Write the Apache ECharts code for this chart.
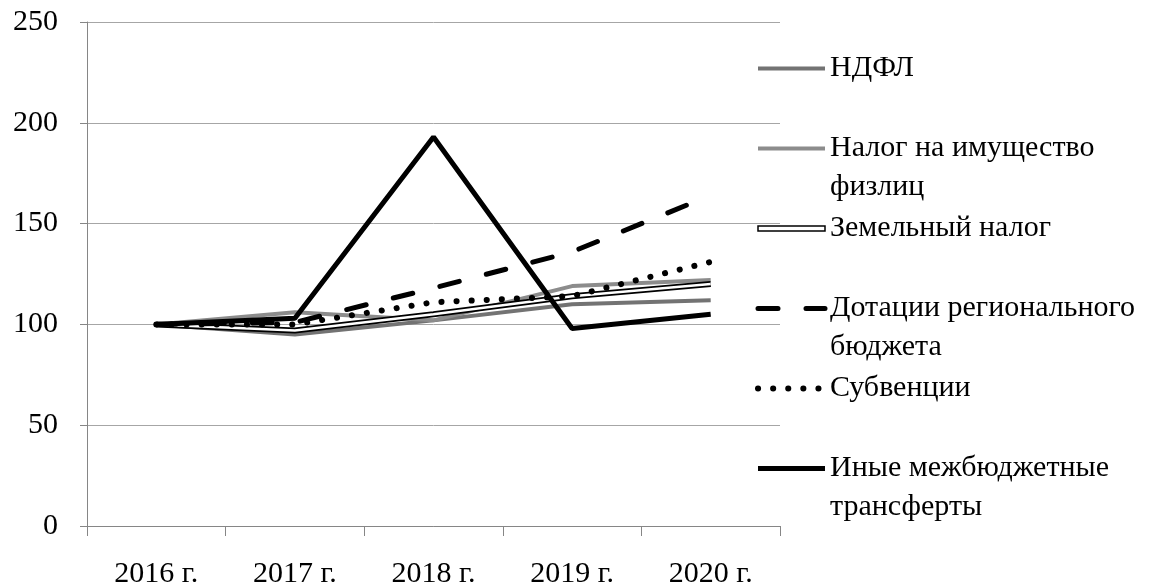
<!DOCTYPE html>
<html>
<head>
<meta charset="utf-8">
<script src="https://cdn.jsdelivr.net/npm/echarts@6/dist/echarts.min.js"></script>
<style>
  html, body { margin: 0; padding: 0; background: #fff; }
  #chart { width: 1158px; height: 584px; }
</style>
</head>
<body>
<div id="chart"></div>
<script>
// годы
const years = ['2016 г.', '2017 г.', '2018 г.', '2019 г.', '2020 г.'];
const yTicks = [0, 50, 100, 150, 200, 250];

// значения рядов, 2016 = 100
const ndfl = [100, 95, 102, 110, 112];
const imushchestvo = [100, 106, 102, 119, 122];
const zemelny = [100, 97, 105, 114, 120];
const dotacii = [100, 101, 118, 136, 164];
const subvencii = [100, 100, 111, 114, 131];
const inye = [100, 103, 193, 98, 105];

// подписи легенды
const names = ['НДФЛ', 'Налог на имущество физлиц', 'Земельный налог',
    'Дотации регионального бюджета', 'Субвенции', 'Иные межбюджетные трансферты'];
const labels = {
    'НДФЛ': 'НДФЛ',
    'Налог на имущество физлиц': 'Налог на имущество\nфизлиц',
    'Земельный налог': 'Земельный налог',
    'Дотации регионального бюджета': 'Дотации регионального\nбюджета',
    'Субвенции': 'Субвенции',
    'Иные межбюджетные трансферты': 'Иные межбюджетные\nтрансферты'
};

const FONT = 'Liberation Serif';
const FS = 30;
const LH = 39;

// стили линий
const styles = {
    'НДФЛ': { color: '#737373', width: 4 },
    'Налог на имущество физлиц': { color: '#8c8c8c', width: 4 },
    'Земельный налог': { color: '#000', width: 6 },
    'Дотации регионального бюджета': { color: '#000', width: 5, type: [20, 28], cap: 'round' },
    'Субвенции': { color: '#000', width: 6, type: [0.1, 15], cap: 'round' },
    'Иные межбюджетные трансферты': { color: '#000', width: 5 }
};

const lineSeries = (name, data, lineStyle, z) => ({
    name: name,
    type: 'line',
    data: data,
    symbol: 'none',
    silent: true,
    animation: false,
    z: z,
    lineStyle: lineStyle
});

const legendItem = (name) => {
    let item = { name: name, lineStyle: styles[name] };
    if (name === 'Земельный налог') {
        item.icon = 'path://M0,0H67V5H0Z';
        item.itemStyle = { color: '#fff', borderColor: '#000', borderWidth: 1.5, opacity: 1 };
    }
    return item;
}

const chart = echarts.init(document.getElementById('chart'), null, { renderer: 'canvas' });

chart.setOption({
    backgroundColor: '#fff',
    animation: false,
    grid: { left: 87, right: 378, top: 22, bottom: 58, outerBoundsMode: 'none', containLabel: false },
    legend: {
        orient: 'vertical',
        left: 755,
        top: 49,
        padding: 0,
        itemGap: 2,
        itemWidth: 67,
        itemHeight: 14,
        selectedMode: false,
        itemStyle: { opacity: 0 },
        textStyle: { fontFamily: FONT, fontSize: FS, color: '#000', lineHeight: LH },
        // пустая первая строка, чтобы значок стоял у первой строки подписи
        formatter: (name) => labels[name].indexOf('\n') > -1 ? '\n' + labels[name] : labels[name],
        data: names.map(legendItem)
    },
    xAxis: {
        type: 'category',
        data: years,
        boundaryGap: true,
        axisLine: { lineStyle: { color: '#868686', width: 1 } },
        axisTick: { show: true, length: 10, lineStyle: { color: '#868686' } },
        axisLabel: { fontFamily: FONT, fontSize: FS, color: '#000', margin: 33 }
    },
    yAxis: {
        type: 'value',
        min: yTicks[0],
        max: yTicks[yTicks.length - 1],
        interval: 50,
        axisLine: { show: true, lineStyle: { color: '#868686', width: 1 } },
        axisTick: { show: true, length: 7, lineStyle: { color: '#868686' } },
        axisLabel: { fontFamily: FONT, fontSize: FS, color: '#000', margin: 29 },
        splitLine: { lineStyle: { color: '#a6a6a6', width: 1 } }
    },
    series: [
        lineSeries('НДФЛ', ndfl, styles['НДФЛ'], 2),
        lineSeries('Налог на имущество физлиц', imushchestvo, styles['Налог на имущество физлиц'], 3),
        lineSeries('Земельный налог', zemelny, styles['Земельный налог'], 4),
        // белая середина двойной линии
        lineSeries('Земельный налог (середина)', zemelny, { color: '#fff', width: 2.5 }, 5),
        lineSeries('Дотации регионального бюджета', dotacii, styles['Дотации регионального бюджета'], 6),
        lineSeries('Субвенции', subvencii, styles['Субвенции'], 7),
        lineSeries('Иные межбюджетные трансферты', inye, styles['Иные межбюджетные трансферты'], 8)
    ]
});
</script>
</body>
</html>
